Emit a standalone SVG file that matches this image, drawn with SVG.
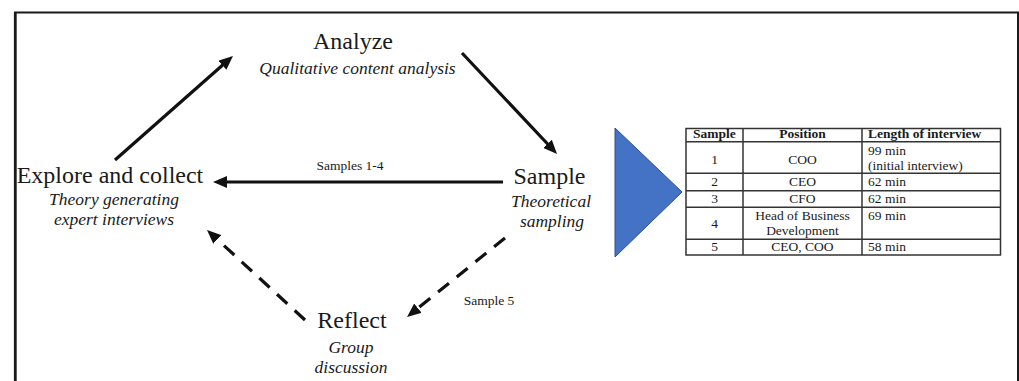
<svg xmlns="http://www.w3.org/2000/svg" width="1019" height="381" viewBox="0 0 1019 381">
<style>
.t{font-family:"Liberation Serif","Times New Roman",serif;fill:#1a1a1a}
.h{font-size:24px;text-anchor:middle}
.s{font-size:17.5px;font-style:italic;text-anchor:middle}
.lb{font-size:13.5px}
.tb{font-size:13.5px}
.c{text-anchor:middle}
.b{font-weight:bold}
.conn{stroke:#111;stroke-width:3.2;fill:none}
.dash{stroke-dasharray:14 10}
.grid{stroke:#333;stroke-width:1.5;fill:none}
</style>
<defs>
<marker id="ah" markerUnits="userSpaceOnUse" markerWidth="14" markerHeight="12" refX="3" refY="6" orient="auto">
<path d="M0,0 L14,6 L0,12 z" fill="#111"/>
</marker>
</defs>
<rect width="1019" height="381" fill="#fff"/>
<g id="frame">
<path d="M15,381 V12.5 H1018 V381" fill="none" stroke="#1a1a1a" stroke-width="2"/>
<line x1="15.3" y1="12" x2="15.3" y2="381" stroke="#1a1a1a" stroke-width="2.8"/>
</g>
<g id="connectors">
<line class="conn" x1="115" y1="160" x2="224.7" y2="63.3" marker-end="url(#ah)"/>
<line class="conn" x1="462" y1="53" x2="549.5" y2="146" marker-end="url(#ah)"/>
<line class="conn" x1="503" y1="182" x2="224" y2="182" marker-end="url(#ah)"/>
<line class="conn dash" x1="305" y1="320" x2="215.1" y2="237.4" marker-end="url(#ah)"/>
<line class="conn dash" x1="505" y1="238" x2="415.6" y2="310.1" marker-end="url(#ah)"/>
<text class="t lb" x="350" y="170" text-anchor="middle">Samples 1-4</text>
<text class="t lb" x="489" y="305" text-anchor="middle">Sample 5</text>
</g>
<g id="analyze">
<text class="t h" x="353" y="49">Analyze</text>
<text class="t s" x="357.5" y="74">Qualitative content analysis</text>
</g>
<g id="explore">
<text class="t h" x="110" y="183">Explore and collect</text>
<text class="t s" x="114" y="205">Theory generating</text>
<text class="t s" x="114" y="225">expert interviews</text>
</g>
<g id="sample">
<text class="t h" x="549.5" y="184">Sample</text>
<text class="t s" x="551" y="207">Theoretical</text>
<text class="t s" x="552" y="227">sampling</text>
</g>
<g id="reflect">
<text class="t h" x="352" y="328">Reflect</text>
<text class="t s" x="351" y="353">Group</text>
<text class="t s" x="351" y="373">discussion</text>
</g>
<g id="triangle">
<polygon points="615,128 682,192 615,257" fill="#4472C4" stroke="#2F4F8A" stroke-width="1"/>
</g>
<g id="table">
<rect class="grid" x="686" y="128.5" width="314.5" height="126.5"/>
<line class="grid" x1="743" y1="128.5" x2="743" y2="255"/>
<line class="grid" x1="862" y1="128.5" x2="862" y2="255"/>
<line class="grid" x1="686" y1="141.7" x2="1000.5" y2="141.7" stroke-width="2"/>
<line class="grid" x1="686" y1="173.3" x2="1000.5" y2="173.3"/>
<line class="grid" x1="686" y1="190.7" x2="1000.5" y2="190.7"/>
<line class="grid" x1="686" y1="207.3" x2="1000.5" y2="207.3"/>
<line class="grid" x1="686" y1="239.3" x2="1000.5" y2="239.3"/>
<text class="t tb b c" x="714.5" y="138">Sample</text>
<text class="t tb b c" x="802.5" y="138">Position</text>
<text class="t tb b" x="868" y="138">Length of interview</text>
<text class="t tb c" x="714.5" y="164">1</text>
<text class="t tb c" x="802.5" y="164">COO</text>
<text class="t tb" x="868" y="155">99 min</text>
<text class="t tb" x="868" y="170">(initial interview)</text>
<text class="t tb c" x="714.5" y="186">2</text>
<text class="t tb c" x="802.5" y="186">CEO</text>
<text class="t tb" x="868" y="186">62 min</text>
<text class="t tb c" x="714.5" y="203">3</text>
<text class="t tb c" x="802.5" y="203">CFO</text>
<text class="t tb" x="868" y="203">62 min</text>
<text class="t tb c" x="714.5" y="228">4</text>
<text class="t tb c" x="802.5" y="220">Head of Business</text>
<text class="t tb c" x="802.5" y="235">Development</text>
<text class="t tb" x="868" y="220">69 min</text>
<text class="t tb c" x="714.5" y="251">5</text>
<text class="t tb c" x="802.5" y="251">CEO, COO</text>
<text class="t tb" x="868" y="251">58 min</text>
</g>
</svg>
